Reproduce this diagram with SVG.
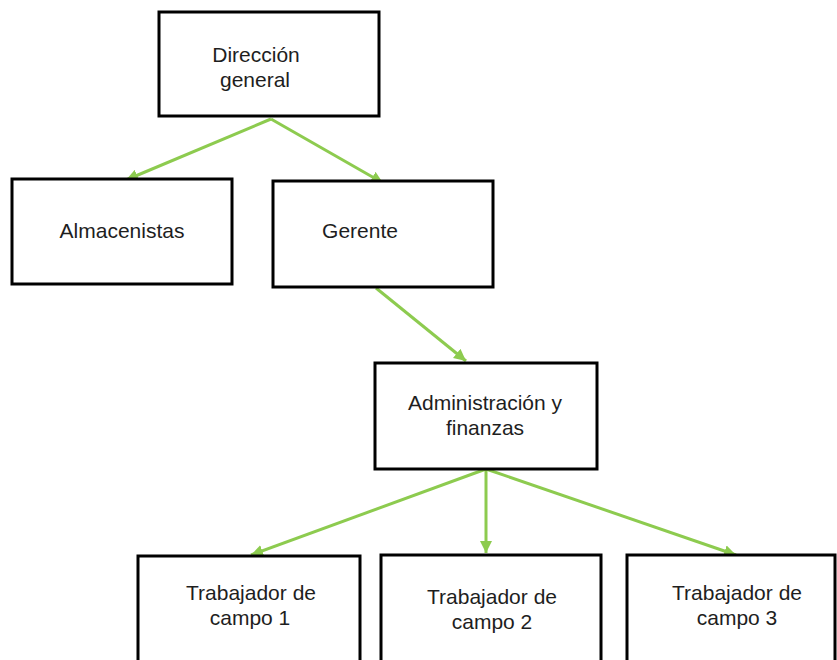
<svg xmlns="http://www.w3.org/2000/svg" width="837" height="660" viewBox="0 0 837 660">
<style>
.box{fill:#fff;stroke:#000;stroke-width:3}
.t{font-family:"Liberation Sans",Arial,sans-serif;font-size:21px;fill:#1e1e1e;text-anchor:middle}
.c{stroke:#8DCB4F;stroke-width:3;fill:none;marker-end:url(#ah)}
</style>
<defs>
<marker id="ah" markerUnits="userSpaceOnUse" markerWidth="14" markerHeight="12" refX="12" refY="6" orient="auto">
<path d="M0,0 L12,6 L0,12 Z" fill="#8DCB4F"/>
</marker>
</defs>
<rect width="837" height="660" fill="#fff"/>
<g id="connectors">
<line class="c" x1="271" y1="119" x2="126" y2="180"/>
<line class="c" x1="271" y1="119" x2="383" y2="183"/>
<line class="c" x1="376" y1="288" x2="466" y2="361"/>
<line class="c" x1="486" y1="469" x2="251" y2="555"/>
<line class="c" x1="486" y1="469" x2="486" y2="553"/>
<line class="c" x1="486" y1="469" x2="736" y2="555"/>
</g>
<g id="direccion">
<rect class="box" x="159" y="12" width="220" height="104"/>
<text class="t" x="256" y="62">Dirección</text>
<text class="t" x="255" y="87">general</text>
</g>
<g id="almacenistas">
<rect class="box" x="12" y="179" width="220" height="105"/>
<text class="t" x="122" y="238">Almacenistas</text>
</g>
<g id="gerente">
<rect class="box" x="273" y="181" width="220" height="106"/>
<text class="t" x="360" y="238">Gerente</text>
</g>
<g id="administracion">
<rect class="box" x="375" y="363" width="222" height="106"/>
<text class="t" x="485" y="410">Administración y</text>
<text class="t" x="485" y="435">finanzas</text>
</g>
<g id="trabajador1">
<rect class="box" x="138" y="556" width="222" height="110"/>
<text class="t" x="251" y="600">Trabajador de</text>
<text class="t" x="250" y="625">campo 1</text>
</g>
<g id="trabajador2">
<rect class="box" x="381" y="555" width="220" height="110"/>
<text class="t" x="492" y="604">Trabajador de</text>
<text class="t" x="492" y="629">campo 2</text>
</g>
<g id="trabajador3">
<rect class="box" x="627" y="555" width="208" height="110"/>
<text class="t" x="737" y="600">Trabajador de</text>
<text class="t" x="737" y="625">campo 3</text>
</g>
</svg>
